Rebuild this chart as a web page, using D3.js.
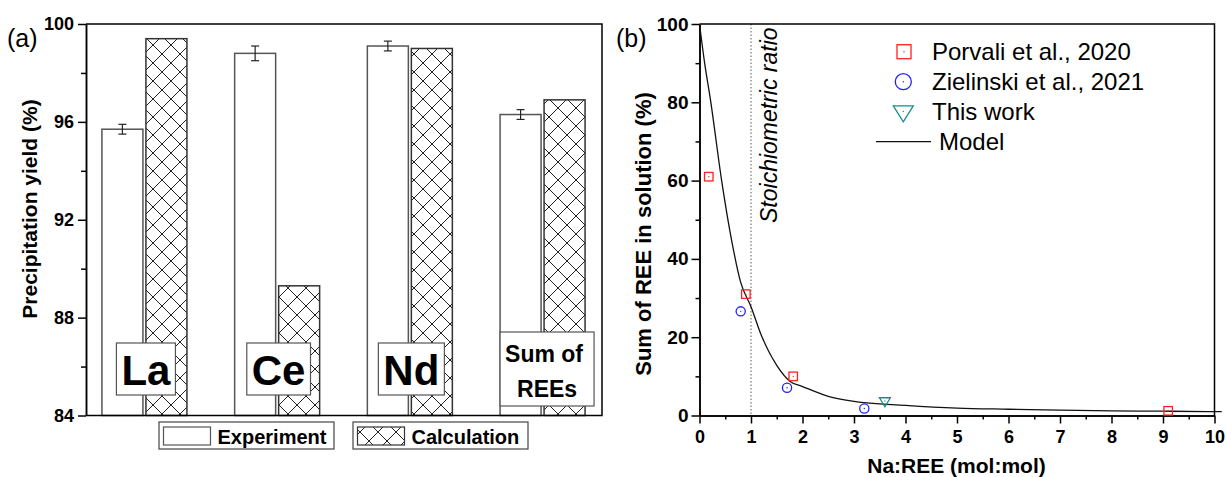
<!DOCTYPE html>
<html><head><meta charset="utf-8">
<script src="https://cdn.jsdelivr.net/npm/d3@7"></script>
<style>
body{margin:0;background:#fff}
svg{display:block}
text{font-family:Arial,"Liberation Sans",sans-serif;fill:#000}
</style>
</head><body>
<svg id="c" width="1226" height="477"></svg>
<script>
// ---------- Panel (a) data ----------
const elements = ["La", "Ce", "Nd", "Sum of REEs"];
const experiment = [95.7, 98.8, 99.1, 96.3];
const experimentErr = [0.2, 0.3, 0.2, 0.2];
const calculation = [99.4, 89.3, 99.0, 96.9];
const yTicksA = [84, 88, 92, 96, 100];
const yMinorA = [86, 90, 94, 98];
const legendA = ["Experiment", "Calculation"];

// ---------- Panel (b) data ----------
const porvaliX = [0.18, 0.9, 1.82, 9.1];
const porvaliY = [61, 31, 10, 1.2];
const zielinskiX = [0.8, 1.7, 3.2];
const zielinskiY = [26.6, 7.1, 1.8];
const thisWorkX = [3.6];
const thisWorkY = [3.5];
const modelX = [0, 0.1, 0.22, 0.43, 0.62, 0.8, 1.0, 1.2, 1.5, 1.76, 2, 2.5, 3, 4, 5, 6, 7, 8, 9, 10, 10.14];
const modelY = [100, 90, 80, 60, 45, 34, 27.8, 20.5, 12.8, 8.7, 7.4, 4.9, 3.6, 2.6, 1.9, 1.6, 1.35, 1.2, 1.1, 1.0, 1.0];
const xTicksB = [0, 1, 2, 3, 4, 5, 6, 7, 8, 9, 10];
const xMinorB = [0.5, 1.5, 2.5, 3.5, 4.5, 5.5, 6.5, 7.5, 8.5, 9.5];
const yTicksB = [0, 20, 40, 60, 80, 100];
const yMinorB = [10, 30, 50, 70, 90];
const stoichX = 1;
const legendB = ["Porvali et al., 2020", "Zielinski et al., 2021", "This work", "Model"];

const RED = "#ff2020", BLUE = "#2020ff", TEAL = "#1a8c8c";

const svg = d3.select("#c");
const defs = svg.append("defs");
const pat = defs.append("pattern").attr("id", "xh")
  .attr("patternUnits", "userSpaceOnUse").attr("width", 18).attr("height", 18);
pat.append("rect").attr("width", 18).attr("height", 18).attr("fill", "#fff");
pat.append("path").attr("d", "M0,0L18,18M18,0L0,18")
  .attr("stroke", "#222").attr("stroke-width", 1).attr("fill", "none");

function styleAxis(g, fs) {
  g.select(".domain").attr("stroke", "#000").attr("stroke-width", 1.5);
  g.selectAll(".tick line").attr("stroke", "#000").attr("stroke-width", 1.5);
  g.selectAll(".tick text").attr("font-size", fs).attr("font-weight", "bold")
    .attr("font-family", "Arial, 'Liberation Sans', sans-serif").attr("fill", "#000");
}

// =============== Panel (a) ===============
const A = {l: 86, r: 602, t: 24, b: 415.5};
const xA = d3.scalePoint().domain(elements).range([A.l, A.r]).padding(0.444);
const yA = d3.scaleLinear().domain([84, 100]).range([A.b, A.t]);
const gA = svg.append("g");

// bars
const bw = 41;
gA.selectAll("rect.exp").data(elements).join("rect").attr("class", "exp")
  .attr("x", d => xA(d) - 43).attr("width", bw)
  .attr("y", (d, i) => yA(experiment[i]))
  .attr("height", (d, i) => yA(84) - yA(experiment[i]))
  .attr("fill", "#fff").attr("stroke", "#555").attr("stroke-width", 1.5);
gA.selectAll("rect.calc").data(elements).join("rect").attr("class", "calc")
  .attr("x", d => xA(d) + 1).attr("width", bw)
  .attr("y", (d, i) => yA(calculation[i]))
  .attr("height", (d, i) => yA(84) - yA(calculation[i]))
  .attr("fill", "url(#xh)").attr("stroke", "#333").attr("stroke-width", 1.5);

// error bars
elements.forEach((d, i) => {
  const cx = xA(d) - 43 + bw / 2;
  const y1 = yA(experiment[i] - experimentErr[i]), y2 = yA(experiment[i] + experimentErr[i]);
  const eg = gA.append("g").attr("stroke", "#222").attr("stroke-width", 1.2);
  eg.append("line").attr("x1", cx).attr("x2", cx).attr("y1", y1).attr("y2", y2);
  eg.append("line").attr("x1", cx - 4).attr("x2", cx + 4).attr("y1", y1).attr("y2", y1);
  eg.append("line").attr("x1", cx - 4).attr("x2", cx + 4).attr("y1", y2).attr("y2", y2);
});

// frame
gA.append("path").attr("d", `M${A.l},${A.t}H${A.r}V${A.b}H${A.l}`)
  .attr("fill", "none").attr("stroke", "#000").attr("stroke-width", 1.5);

// axes
const axA = gA.append("g").attr("transform", `translate(${A.l},0)`)
  .call(d3.axisLeft(yA).tickValues(yTicksA).tickSize(8).tickSizeOuter(0).tickPadding(4).tickFormat(d3.format("d")));
styleAxis(axA, 18);
const axAm = gA.append("g").attr("transform", `translate(${A.l},0)`)
  .call(d3.axisLeft(yA).tickValues(yMinorA).tickSize(5).tickSizeOuter(0).tickFormat(""));
styleAxis(axAm, 18);

// labels boxes inside bars
const boxY = 369;
elements.forEach((d, i) => {
  const cx = xA(d) + (i === 3 ? 4 : 1);
  const lg = gA.append("g");
  const rect = lg.append("rect").attr("fill", "#fff").attr("stroke", "#555").attr("stroke-width", 1.2);
  if (i < 3) {
    const t = lg.append("text").attr("x", cx).attr("y", boxY + 16).attr("text-anchor", "middle")
      .attr("font-size", 42).attr("font-weight", "bold").text(d);
    const w = t.node().getComputedTextLength() + 10;
    rect.attr("x", cx - w / 2).attr("y", boxY - 26).attr("width", w).attr("height", 52);
  } else {
    const parts = ["Sum of", "REEs"];
    lg.append("text").attr("x", cx - 3).attr("y", boxY - 7.5).attr("text-anchor", "middle")
      .attr("font-size", 23).attr("font-weight", "bold").text(parts[0]);
    lg.append("text").attr("x", cx).attr("y", boxY + 28).attr("text-anchor", "middle")
      .attr("font-size", 23).attr("font-weight", "bold").text(parts[1]);
    rect.attr("x", cx - 47).attr("y", boxY - 37).attr("width", 94).attr("height", 74);
  }
});

// y label
svg.append("text").attr("transform", "translate(36.5,209) rotate(-90)")
  .attr("text-anchor", "middle").attr("font-size", 21).attr("font-weight", "bold")
  .text("Precipitation yield (%)");
svg.append("text").attr("x", 7).attr("y", 47).attr("font-size", 25).text("(a)");

// legend (a)
const legA = [{x: 159, w: 175, fill: "#fff", stroke: "#555"}, {x: 353, w: 175, fill: "url(#xh)", stroke: "#333"}];
legA.forEach((L, i) => {
  const g = svg.append("g");
  g.append("rect").attr("x", L.x).attr("y", 422).attr("width", L.w).attr("height", 27)
    .attr("fill", "#fff").attr("stroke", "#444").attr("stroke-width", 1.2);
  g.append("rect").attr("x", L.x + 4.5).attr("y", 427).attr("width", 47).attr("height", 18)
    .attr("fill", L.fill).attr("stroke", L.stroke).attr("stroke-width", 1.2);
  g.append("text").attr("x", L.x + 58.5).attr("y", 444).attr("font-size", 20)
    .attr("font-weight", "bold").text(legendA[i]);
});

// =============== Panel (b) ===============
const B = {l: 699.5, r: 1214.5, t: 24, b: 415.5};
const xB = d3.scaleLinear().domain([0, 10]).range([B.l, B.r]);
const yB = d3.scaleLinear().domain([0, 100]).range([B.b, B.t]);
const gB = svg.append("g");

// dotted stoichiometric line
gB.append("line").attr("x1", xB(stoichX)).attr("x2", xB(stoichX)).attr("y1", B.t).attr("y2", B.b)
  .attr("stroke", "#777").attr("stroke-width", 1.2).attr("stroke-dasharray", "1.5,2");
gB.append("text").attr("transform", `translate(${xB(stoichX) + 25.5},223) rotate(-90)`)
  .attr("font-size", 23).attr("font-style", "italic").text("Stoichiometric ratio");

// frame
gB.append("path").attr("d", `M${B.l},${B.t}H${B.r}V${B.b}`)
  .attr("fill", "none").attr("stroke", "#000").attr("stroke-width", 1.5);

// axes
const axBx = gB.append("g").attr("transform", `translate(0,${B.b})`)
  .call(d3.axisBottom(xB).tickValues(xTicksB).tickSize(8).tickSizeOuter(0).tickPadding(7).tickFormat(d3.format("d")));
styleAxis(axBx, 18);
const axBxm = gB.append("g").attr("transform", `translate(0,${B.b})`)
  .call(d3.axisBottom(xB).tickValues(xMinorB).tickSize(4).tickSizeOuter(0).tickFormat(""));
styleAxis(axBxm, 18);
const axBy = gB.append("g").attr("transform", `translate(${B.l},0)`)
  .call(d3.axisLeft(yB).tickValues(yTicksB).tickSize(8).tickSizeOuter(0).tickPadding(3).tickFormat(d3.format("d")));
styleAxis(axBy, 19);
const axBym = gB.append("g").attr("transform", `translate(${B.l},0)`)
  .call(d3.axisLeft(yB).tickValues(yMinorB).tickSize(4).tickSizeOuter(0).tickFormat(""));
styleAxis(axBym, 19);

// model line
const modelPts = modelX.map((x, i) => [x, modelY[i]]);
gB.append("path").datum(modelPts)
  .attr("d", d3.line().x(d => xB(d[0])).y(d => yB(d[1])).curve(d3.curveMonotoneX))
  .attr("fill", "none").attr("stroke", "#111").attr("stroke-width", 1.3);

// marker helpers
function square(g, cx, cy, s, c) {
  g.append("rect").attr("x", cx - s / 2).attr("y", cy - s / 2).attr("width", s).attr("height", s)
    .attr("fill", "none").attr("stroke", c).attr("stroke-width", 1.3);
  g.append("circle").attr("cx", cx).attr("cy", cy).attr("r", 0.7).attr("fill", c);
}
function circ(g, cx, cy, r, c) {
  g.append("circle").attr("cx", cx).attr("cy", cy).attr("r", r)
    .attr("fill", "none").attr("stroke", c).attr("stroke-width", 1.3);
  g.append("circle").attr("cx", cx).attr("cy", cy).attr("r", 0.7).attr("fill", c);
}
function tri(g, cx, cy, w, h, c) {
  g.append("path").attr("d", `M${cx - w / 2},${cy - h * 0.45}L${cx + w / 2},${cy - h * 0.45}L${cx},${cy + h * 0.55}Z`)
    .attr("fill", "none").attr("stroke", c).attr("stroke-width", 1.3);
  g.append("circle").attr("cx", cx).attr("cy", cy - h * 0.1).attr("r", 0.7).attr("fill", c);
}

porvaliX.forEach((x, i) => square(gB, xB(x), yB(porvaliY[i]), 8.5, RED));
zielinskiX.forEach((x, i) => circ(gB, xB(x), yB(zielinskiY[i]), 4.6, BLUE));
thisWorkX.forEach((x, i) => tri(gB, xB(x), yB(thisWorkY[i]), 11, 9, TEAL));

// labels
svg.append("text").attr("transform", "translate(651,234) rotate(-90)")
  .attr("text-anchor", "middle").attr("font-size", 22).attr("font-weight", "bold")
  .text("Sum of REE in solution (%)");
svg.append("text").attr("x", 956.5).attr("y", 473).attr("text-anchor", "middle")
  .attr("font-size", 21).attr("font-weight", "bold").text("Na:REE (mol:mol)");
svg.append("text").attr("x", 616).attr("y", 47).attr("font-size", 25).text("(b)");

// legend (b)
const lg = svg.append("g");
square(lg, 904, 51.7, 14, RED);
circ(lg, 903.3, 81.7, 8, BLUE);
tri(lg, 903.3, 113, 20, 16, TEAL);
lg.append("line").attr("x1", 876).attr("x2", 931).attr("y1", 141.7).attr("y2", 141.7)
  .attr("stroke", "#111").attr("stroke-width", 1.3);
const lbY = [60, 90, 120, 150];
legendB.forEach((t, i) => {
  lg.append("text").attr("x", i === 3 ? 939 : 932).attr("y", lbY[i]).attr("font-size", 24).text(t);
});
</script>
</body></html>
